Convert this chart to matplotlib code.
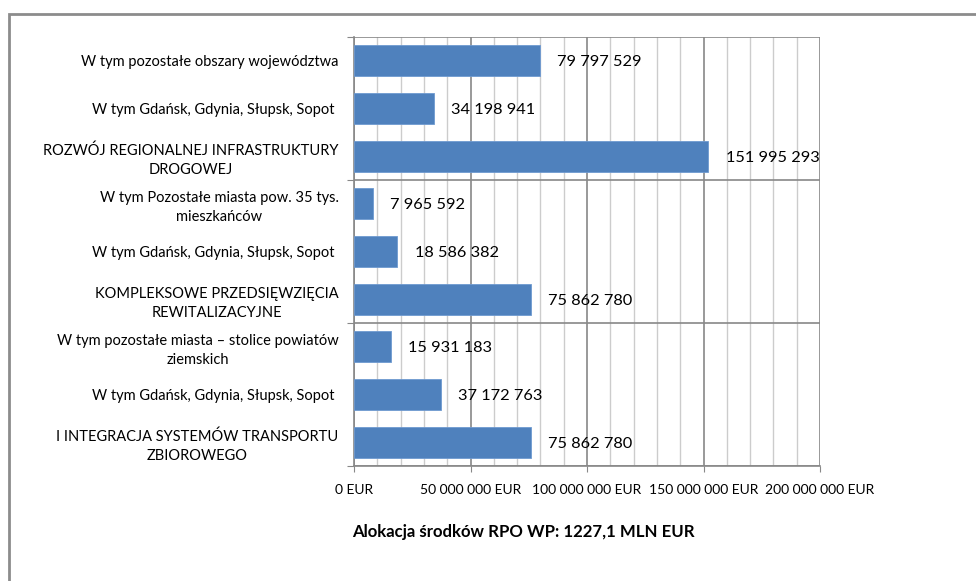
import matplotlib
matplotlib.use("Agg")
import matplotlib.pyplot as plt
from matplotlib.patches import Rectangle
from matplotlib.ticker import FuncFormatter, MultipleLocator

plt.rcParams['font.family'] = ['Lato', 'DejaVu Sans']

categories = [
    "I INTEGRACJA SYSTEMÓW TRANSPORTU\nZBIOROWEGO",
    "W tym Gdańsk, Gdynia, Słupsk, Sopot ",
    "W tym pozostałe miasta – stolice powiatów\nziemskich",
    "KOMPLEKSOWE PRZEDSIĘWZIĘCIA\nREWITALIZACYJNE",
    "W tym Gdańsk, Gdynia, Słupsk, Sopot ",
    "W tym Pozostałe miasta pow. 35 tys.\nmieszkańców",
    "ROZWÓJ REGIONALNEJ INFRASTRUKTURY\nDROGOWEJ",
    "W tym Gdańsk, Gdynia, Słupsk, Sopot ",
    "W tym pozostałe obszary województwa",
]
values = [75862780, 37172763, 15931183, 75862780, 18586382,
          7965592, 151995293, 34198941, 79797529]
group_bounds = [-0.5, 2.5, 5.5, 8.5]


def spaced(v):
    return f"{v:,.0f}".replace(",", " ")


fig = plt.figure(figsize=(9.76, 5.81), dpi=100)
ax = fig.add_axes([354 / 976, 1 - 466 / 581, (820 - 354) / 976, (466 - 37) / 581])

pos = list(range(len(values)))
ax.barh(pos, values, height=0.65, color="#4F81BD", edgecolor="#6F9AD0",
        linewidth=0.6, zorder=3)

for p, v in zip(pos, values):
    ax.annotate(spaced(v), (v, p), xytext=(12.5, -1), textcoords="offset points",
                va="center", ha="left", fontsize=11.8, color="black", zorder=4)

ax.set_xlim(0, 200_000_000)
ax.set_ylim(-0.5, 8.5)

ax.xaxis.set_major_locator(MultipleLocator(50_000_000))
ax.xaxis.set_minor_locator(MultipleLocator(10_000_000))
ax.xaxis.set_major_formatter(FuncFormatter(lambda x, _: spaced(x) + " EUR"))
ax.tick_params(axis="x", which="major", length=4, color="#888888",
               labelsize=10, pad=9)
ax.tick_params(axis="x", which="minor", length=0)
ax.grid(axis="x", which="major", color="#888888", linewidth=1.2, zorder=0)
ax.grid(axis="x", which="minor", color="#cccccc", linewidth=1.0, zorder=0)

ax.set_yticks(group_bounds)
ax.set_yticklabels([])
ax.set_yticks(pos, minor=True)
ax.set_yticklabels(categories, minor=True, fontsize=10.5,
                   multialignment="center", linespacing=1.45)
ax.tick_params(axis="y", which="major", length=5, color="#888888")
ax.tick_params(axis="y", which="minor", length=0, pad=11)
ax.grid(axis="y", which="major", color="#888888", linewidth=1.2, zorder=0)

for side in ("top", "right"):
    ax.spines[side].set_visible(False)
for side in ("left", "bottom"):
    ax.spines[side].set_color("#888888")
    ax.spines[side].set_linewidth(1.2)

fig.text(523 / 976, 1 - 532 / 581, "Alokacja środków RPO WP: 1227,1 MLN EUR",
         ha="center", va="center", fontsize=12.1, fontweight="bold")

fig.patches.append(Rectangle((8.5 / 976, -0.1), 1.2, 1 - 13.5 / 581 + 0.1,
                             transform=fig.transFigure, fill=False,
                             edgecolor="#8c8c8c", linewidth=2))

fig.savefig("out.png", dpi=100)
